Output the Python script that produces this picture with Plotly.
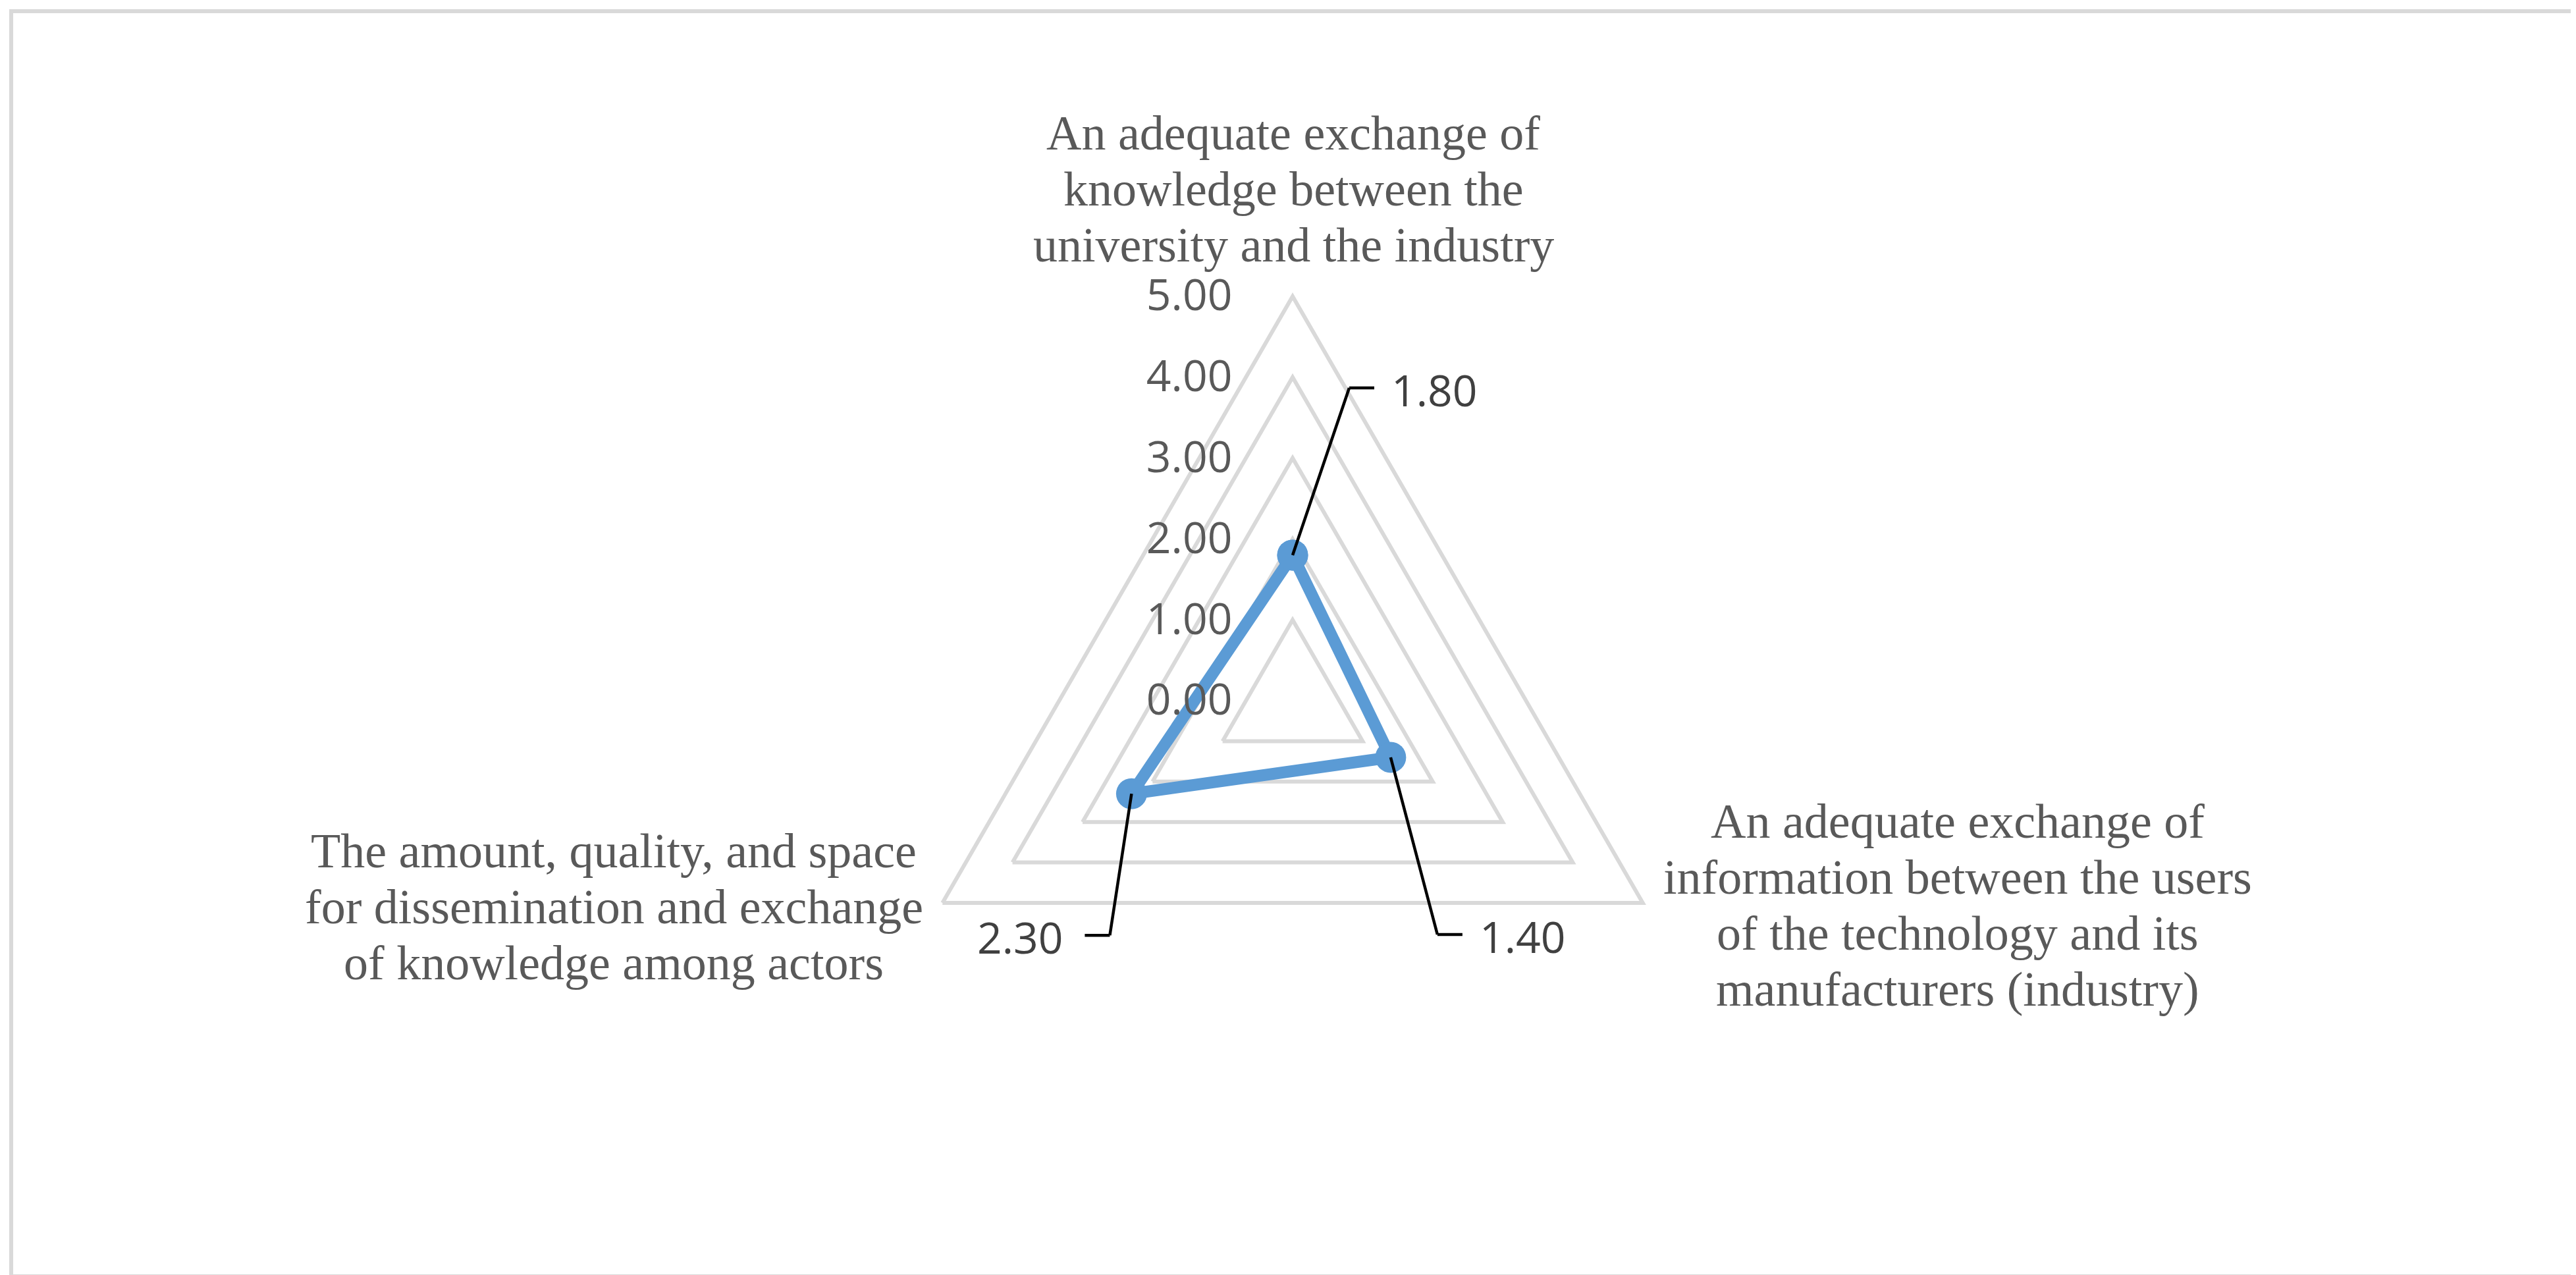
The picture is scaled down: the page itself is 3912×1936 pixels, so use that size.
import math
import plotly.graph_objects as go

# data
categories = ["knowledge_univ_industry", "info_users_manufacturers", "dissemination_actors"]
category_lines = [
    ["An adequate exchange of", "knowledge between the", "university and the industry"],
    ["An adequate exchange of", "information between the users",
     "of the technology and its", "manufacturers (industry)"],
    ["The amount, quality, and space", "for dissemination and exchange",
     "of knowledge among actors"],
]
values = [1.80, 1.40, 2.30]
radial_ticks = [0, 1, 2, 3, 4, 5]

W, H = 3912, 1936
CX, CY, R = 1955, 1056, 614          # pixel centre / radius of the radar
R_MAX = 5
BLUE = "#5b9bd5"
GRID = "#d9d9d9"

# first baseline (px) and centre x of each category label block
label_pos = [(1956, 224), (2965, 1269), (924, 1314)]
LINE_H = 85
SERIF = 74
SANS = 66

# leader line elbow offsets from marker (px), stub direction, text gap
leader = [(86, -254, 1, 24), (71, 269, 1, 24), (-33, 215, -1, 30)]


def px(x):
    return x / W


def py(y):
    return 1 - y / H


def to_px(val, i):
    ang = math.radians(90 - 120 * i)
    return CX + val / R_MAX * R * math.cos(ang), CY - val / R_MAX * R * math.sin(ang)


fig = go.Figure()
fig.add_trace(go.Scatterpolar(
    r=values + values[:1], theta=categories + categories[:1],
    mode="lines+markers",
    line=dict(color=BLUE, width=18),
    marker=dict(color=BLUE, size=47),
    hoverinfo="skip", showlegend=False,
))

annotations = []
for lines, (lx, ly) in zip(category_lines, label_pos):
    for k, txt in enumerate(lines):
        annotations.append(dict(
            x=px(lx), y=py(ly + k * LINE_H - 30), xref="paper", yref="paper",
            text=txt, showarrow=False, xanchor="center", yanchor="middle",
            font=dict(family="Liberation Serif", size=SERIF, color="#595959"),
        ))

shapes = []
for i, v in enumerate(values):
    mx, my = to_px(v, i)
    dx, dy, d, gap = leader[i]
    ex, ey = mx + dx, my + dy
    sx = ex + d * 38
    shapes.append(dict(type="line", xref="paper", yref="paper",
                       x0=px(mx), y0=py(my), x1=px(ex), y1=py(ey),
                       line=dict(color="black", width=4.5)))
    shapes.append(dict(type="line", xref="paper", yref="paper",
                       x0=px(ex), y0=py(ey), x1=px(sx), y1=py(ey),
                       line=dict(color="black", width=4.5)))
    annotations.append(dict(
        x=px(sx + d * gap), y=py(ey + 2), xref="paper", yref="paper",
        text=f"{v:.2f}", showarrow=False,
        xanchor="left" if d > 0 else "right", yanchor="middle",
        font=dict(family="Open Sans", size=SANS, color="#404040"),
    ))

# chart border
shapes.append(dict(type="rect", xref="paper", yref="paper",
                   x0=px(9), y0=py(9), x1=px(3907), y1=py(1930),
                   line=dict(color=GRID, width=6)))

fig.update_layout(
    width=W, height=H,
    margin=dict(l=0, r=0, t=0, b=0),
    paper_bgcolor="white",
    polar=dict(
        domain=dict(x=[px(CX - R), px(CX + R)], y=[py(CY + R), py(CY - R)]),
        bgcolor="white",
        gridshape="linear",
        radialaxis=dict(
            range=[0, R_MAX], tickvals=radial_ticks, tickformat=".2f",
            angle=90, side="counterclockwise", tickangle=90,
            showline=False, showgrid=True, gridcolor=GRID, gridwidth=6,
            ticks="outside", ticklen=68, tickcolor="rgba(0,0,0,0)",
            tickfont=dict(family="Open Sans", size=SANS, color="#595959"),
        ),
        angularaxis=dict(
            rotation=90, direction="clockwise",
            showline=True, linecolor=GRID, linewidth=6,
            showgrid=False, showticklabels=False, ticks="",
        ),
    ),
    annotations=annotations,
    shapes=shapes,
)

fig.write_html("out.html")
